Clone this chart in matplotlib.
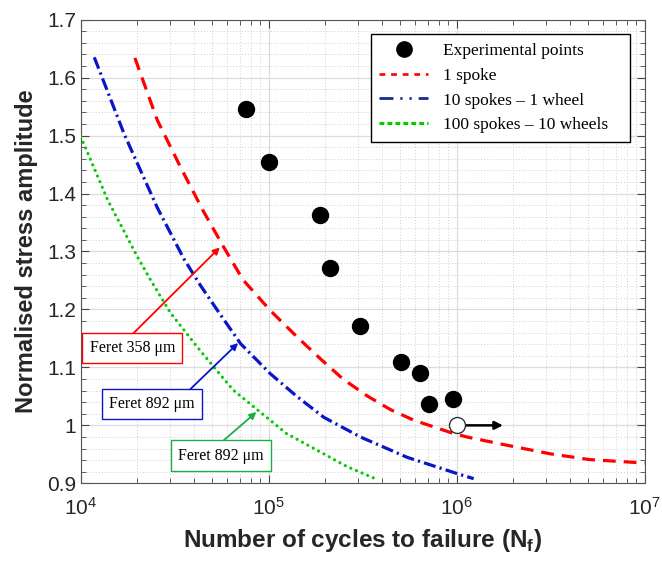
import matplotlib
matplotlib.use("Agg")
import matplotlib.pyplot as plt
from matplotlib.lines import Line2D
from matplotlib.ticker import MultipleLocator, LogLocator, NullFormatter

# experimental points (cycles, normalised stress amplitude)
exp_n = [7.59e4, 1.0e5, 1.88e5, 2.11e5, 3.04e5, 5.07e5, 6.4e5, 7.08e5, 9.6e5]
exp_s = [1.546, 1.455, 1.363, 1.272, 1.172, 1.109, 1.090, 1.036, 1.045]
runout_n = [1.0e6]
runout_s = [1.0]

# predicted curves
one_spoke_n = [1.94e4, 2.55e4, 3.4e4, 4.48e4, 5.77e4, 7.3e4, 1.02e5, 1.41e5, 1.88e5,
               2.48e5, 3.33e5, 4.45e5, 5.9e5, 9.4e5, 1.13e6, 1.83e6, 3.13e6, 5.07e6, 1.0e7]
one_spoke_s = [1.634, 1.527, 1.445, 1.370, 1.307, 1.251, 1.198, 1.153, 1.115,
               1.080, 1.051, 1.027, 1.009, 0.987, 0.980, 0.966, 0.951, 0.941, 0.935]

ten_spokes_n = [1.18e4, 1.7e4, 2.55e4, 3.54e4, 4.34e4, 5.53e4, 7.08e4, 1.02e5, 1.41e5,
                1.96e5, 3.07e5, 5.43e5, 1.0e6, 1.23e6]
ten_spokes_s = [1.635, 1.503, 1.376, 1.287, 1.241, 1.191, 1.141, 1.089, 1.050,
                1.014, 0.980, 0.945, 0.917, 0.908]

hundred_spokes_n = [1.0e4, 1.39e4, 2.0e4, 2.35e4, 3.0e4, 4.34e4, 6.46e4, 9.0e4,
                    1.24e5, 1.81e5, 2.6e5, 3.69e5]
hundred_spokes_s = [1.498, 1.389, 1.291, 1.251, 1.194, 1.128, 1.061, 1.023,
                    0.986, 0.957, 0.929, 0.908]

RED = "#ff0000"
BLUE = "#0a14c8"
GREEN = "#00cc00"
GREEN_BOX = "#1aae4a"
SERIF = "Liberation Serif"
SANS = "Liberation Sans"

fig = plt.figure(figsize=(6.62, 5.62), dpi=100)
ax = fig.add_axes([0.122, 0.140, 0.852, 0.825])

ax.plot(one_spoke_n, one_spoke_s, color=RED, lw=2.3, dashes=(4, 2.5), zorder=3)
ax.plot(ten_spokes_n, ten_spokes_s, color=BLUE, lw=2.3, dashes=(3.8, 1.3, 0.7, 1.3), zorder=3)
ax.plot(hundred_spokes_n, hundred_spokes_s, color=GREEN, lw=2.3,
        dashes=(0.01, 1.9), dash_capstyle="round", zorder=3)

# run-out arrow then points
ax.annotate("", xy=(1.76e6, 1.0), xytext=(1.0e6, 1.0),
            arrowprops=dict(arrowstyle="-|>", color="black", lw=1.8,
                            mutation_scale=12, shrinkA=0, shrinkB=0), zorder=4)
ax.plot(exp_n, exp_s, "o", color="black", ms=11.5, zorder=5)
ax.plot(runout_n, runout_s, "o", mfc="white", mec="#333333", mew=1.0, ms=11.5, zorder=6)

# Feret boxes with arrows
boxes = [("Feret 358 \u03bcm", (1.88e4, 1.134), (1.88e4, 1.157), (5.49e4, 1.307), RED),
         ("Feret 892 \u03bcm", (2.39e4, 1.037), (3.73e4, 1.059), (6.87e4, 1.142), BLUE),
         ("Feret 892 \u03bcm", (5.55e4, 0.948), (5.61e4, 0.971), (8.6e4, 1.023), GREEN_BOX)]
for label, centre, start, tip, col in boxes:
    ax.text(centre[0], centre[1], label, ha="center", va="center", fontsize=11.5,
            family=SERIF, color="black", zorder=7,
            bbox=dict(boxstyle="square,pad=0.45", fc="white", ec=col, lw=1.0))
    ax.annotate("", xy=tip, xytext=start,
                arrowprops=dict(arrowstyle="-|>", color=col, lw=1.3,
                                mutation_scale=10, shrinkA=0, shrinkB=0), zorder=6)

ax.set_xscale("log")
ax.set_xlim(1e4, 1e7)
ax.set_ylim(0.9, 1.7)
ax.yaxis.set_major_locator(MultipleLocator(0.1))
ax.yaxis.set_minor_locator(MultipleLocator(0.02))
ax.xaxis.set_minor_locator(LogLocator(base=10, subs=range(2, 10)))
ax.xaxis.set_minor_formatter(NullFormatter())
ax.set_yticks([0.9, 1.0, 1.1, 1.2, 1.3, 1.4, 1.5, 1.6, 1.7])
ax.set_yticklabels(["0.9", "1", "1.1", "1.2", "1.3", "1.4", "1.5", "1.6", "1.7"])

ax.grid(True, which="major", color="#dcdcdc", lw=0.9, ls="-")
ax.grid(True, which="minor", color="#cfcfcf", lw=0.7, ls=(0, (1, 2)))
ax.set_axisbelow(True)
ax.tick_params(which="both", direction="in", top=True, right=True, colors="#444444",
               labelcolor="#262626", labelsize=15)
ax.tick_params(which="major", length=6, width=0.8)
ax.tick_params(which="minor", length=3.5, width=0.6)
for t in ax.get_xticklabels() + ax.get_yticklabels():
    t.set_family(SANS)
ax.tick_params(axis="x", pad=10)
for s in ax.spines.values():
    s.set_color("#555555")
    s.set_linewidth(0.8)

ax.set_xlabel("Number of cycles to failure (N$_\\mathregular{f}$)", fontsize=17.5,
              fontweight="bold", family=SANS, color="#262626", labelpad=6)
ax.set_ylabel("Normalised stress amplitude", fontsize=17, fontweight="bold",
              family=SANS, color="#262626", labelpad=6)

handles = [Line2D([], [], ls="none", marker="o", color="black", ms=11),
           Line2D([], [], color=RED, lw=1.9, dashes=(2.2, 2.2)),
           Line2D([], [], color="#1a2a8a", lw=2.0, dashes=(5, 2.5, 0.8, 2.5, 0.8, 2.5)),
           Line2D([], [], color=GREEN, lw=2.2, dashes=(1.6, 1.0))]
labels = ["Experimental points", "1 spoke", "10 spokes \u2013 1 wheel",
          "100 spokes \u2013 10 wheels   "]
leg = ax.legend(handles, labels, loc="upper right", bbox_to_anchor=(0.973, 0.969),
                borderaxespad=0, fancybox=False, framealpha=1, edgecolor="black",
                prop=dict(family=SERIF, size=12.5), handlelength=2.8,
                handletextpad=0.85, labelspacing=0.5, borderpad=0.5)
leg.get_frame().set_linewidth(1.0)

fig.savefig("out.png", dpi=100)
